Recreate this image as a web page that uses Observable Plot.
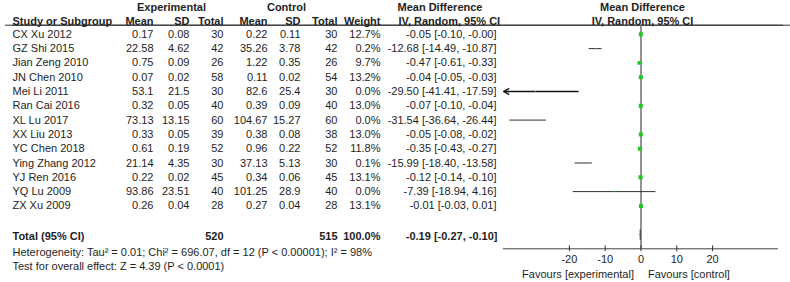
<!DOCTYPE html>
<html>
<head>
<meta charset="utf-8">
<script src="https://cdn.jsdelivr.net/npm/d3@7"></script>
<script src="https://cdn.jsdelivr.net/npm/@observablehq/plot@0.6"></script>
<style>
  html, body { margin: 0; padding: 0; background: #fff; }
  #chart { width: 790px; height: 282px; }
</style>
</head>
<body>
<div id="chart"></div>
<script>
// ---- data ----
const studies   = ["CX Xu 2012","GZ Shi 2015","Jian Zeng 2010","JN Chen 2010","Mei Li 2011","Ran Cai 2016","XL Lu 2017","XX Liu 2013","YC Chen 2018","Ying Zhang 2012","YJ Ren 2016","YQ Lu 2009","ZX Xu 2009"];
const expMean   = [0.17, 22.58, 0.75, 0.07, 53.1, 0.32, 73.13, 0.33, 0.61, 21.14, 0.22, 93.86, 0.26];
const expSD     = [0.08, 4.62, 0.09, 0.02, 21.5, 0.05, 13.15, 0.05, 0.19, 4.35, 0.02, 23.51, 0.04];
const expTotal  = [30, 42, 26, 58, 30, 40, 60, 39, 52, 30, 45, 40, 28];
const ctlMean   = [0.22, 35.26, 1.22, 0.11, 82.6, 0.39, 104.67, 0.38, 0.96, 37.13, 0.34, 101.25, 0.27];
const ctlSD     = [0.11, 3.78, 0.35, 0.02, 25.4, 0.09, 15.27, 0.08, 0.22, 5.13, 0.06, 28.9, 0.04];
const ctlTotal  = [30, 42, 26, 54, 30, 40, 60, 38, 52, 30, 45, 40, 28];
const weight    = [12.7, 0.2, 9.7, 13.2, 0.0, 13.0, 0.0, 13.0, 11.8, 0.1, 13.1, 0.0, 13.1];
const md        = [-0.05, -12.68, -0.47, -0.04, -29.50, -0.07, -31.54, -0.05, -0.35, -15.99, -0.12, -7.39, -0.01];
const ciLow     = [-0.10, -14.49, -0.61, -0.05, -41.41, -0.10, -36.64, -0.08, -0.43, -18.40, -0.14, -18.94, -0.03];
const ciHigh    = [-0.00, -10.87, -0.33, -0.03, -17.59, -0.04, -26.44, -0.02, -0.27, -13.58, -0.10, 4.16, 0.01];

const totalExp = 520, totalCtl = 515, totalWeight = 100.0;
const totalMD = -0.19, totalLow = -0.27, totalHigh = -0.10;
const tau2 = "0.01", chi2 = "696.07", dfHet = 12, pHet = "< 0.00001", i2 = 98;
const zOverall = "4.39", pOverall = "< 0.0001";

const tickValues = [-20, -10, 0, 10, 20];
const xDomain = [-38.4, 38.4];

// ---- layout ----
const W = 790, H = 282, ML = 12, MR = 0;
const yDomain = [0, 16], yRange = [33.8, 262.6];
const yPix = d3.scaleLinear(yDomain, yRange);
const axisRow = 15;
const totalRow = studies.length + 1;
const font = "'Liberation Sans', Arial, sans-serif";
const ink = "#1e1e1e";

const fmt2 = v => ((v < 0 || Object.is(v, -0)) ? "-" : "") + Math.abs(v).toFixed(2);
const ciText = (m, l, h) => `${fmt2(m)} [${fmt2(l)}, ${fmt2(h)}]`;

const rows = studies.map((s, i) => ({
  i, s,
  em: String(expMean[i]), es: String(expSD[i]), et: String(expTotal[i]),
  cm: String(ctlMean[i]), cs: String(ctlSD[i]), ct: String(ctlTotal[i]),
  w: weight[i], wt: weight[i].toFixed(1) + "%",
  md: md[i], lo: ciLow[i], hi: ciHigh[i],
  ci: ciText(md[i], ciLow[i], ciHigh[i])
}));

const inside = rows.filter(d => d.lo >= xDomain[0] && d.hi <= xDomain[1]);
const clipped = rows.filter(d => d.lo < xDomain[0] || d.hi > xDomain[1]);

// table columns: [field, right edge px]
const cols = [["em",153],["es",189],["et",223],["cm",267],["cs",300],["ct",337],["wt",380],["ci",496]];

const totalCells = [
  {t: "Total (95% CI)", x: 12, a: "start"},
  {t: String(totalExp), x: 223, a: "end"},
  {t: String(totalCtl), x: 337, a: "end"},
  {t: totalWeight.toFixed(1) + "%", x: 380, a: "end"},
  {t: ciText(totalMD, totalLow, totalHigh), x: 497, a: "end"}
];
const headers2 = [
  {t: "Study or Subgroup", x: 12, a: "start"},
  {t: "Mean", x: 153, a: "end"}, {t: "SD", x: 189, a: "end"}, {t: "Total", x: 223, a: "end"},
  {t: "Mean", x: 267, a: "end"}, {t: "SD", x: 300, a: "end"}, {t: "Total", x: 337, a: "end"},
  {t: "Weight", x: 380, a: "end"},
  {t: "IV, Random, 95% CI", x: 398, a: "start"},
  {t: "IV, Random, 95% CI", x: 642, a: "middle"}
];
const headers1 = [
  {t: "Experimental", x: 171, a: "middle"},
  {t: "Control", x: 286, a: "middle"},
  {t: "Mean Difference", x: 397, a: "start"},
  {t: "Mean Difference", x: 642, a: "middle"}
];

const hetText = `Heterogeneity: Tau\u00B2 = ${tau2}; Chi\u00B2 = ${chi2}, df = ${dfHet} (P ${pHet}); I\u00B2 = ${i2}%`;
const testText = `Test for overall effect: Z = ${zOverall} (P ${pOverall})`;

const diamond = [
  {x: totalLow, y: totalRow}, {x: totalMD, y: totalRow - 0.36},
  {x: totalHigh, y: totalRow}, {x: totalMD, y: totalRow + 0.36},
  {x: totalLow, y: totalRow}
];

// anchor a text at a pixel column: start → from left frame edge, end → from right edge, middle → from centre
const anchorOpts = (px, a) =>
  a === "start" ? {frameAnchor: "left", dx: px - ML, textAnchor: "start"}
  : a === "end" ? {frameAnchor: "right", dx: px - (W - MR), textAnchor: "end"}
  : {frameAnchor: "middle", dx: px - (ML + W - MR) / 2, textAnchor: "middle"};

const cell = (c, row, dy, bold) => Plot.text([c.t], {
  ...anchorOpts(c.x, c.a), y: () => row, dy,
  fontSize: 11, fill: ink, fontWeight: bold ? "bold" : "normal"
});

const marginBottom = H - yPix(axisRow);

const plot = Plot.plot({
  width: W, height: H,
  marginLeft: ML, marginRight: MR, marginTop: 25, marginBottom,
  style: {fontFamily: font, fontSize: "11px", color: ink, background: "#fff"},
  x: {domain: xDomain, range: [503, 778], axis: null},
  y: {domain: yDomain, range: yRange, axis: null},
  r: {type: "sqrt", domain: [0, 13.2], range: [0.55, 2.3]},
  marks: [
    // header rule
    Plot.ruleY([-1], {dy: 5.2, dx: -7, stroke: "#333", strokeWidth: 1}),
    Plot.ruleY([-1], {dy: 5.2, stroke: "#333", strokeWidth: 1}),
    // zero line
    Plot.ruleX([0], {stroke: "#666", strokeWidth: 1.4}),
    // axis line
    Plot.ruleY([axisRow], {x1: xDomain[0], x2: xDomain[1], stroke: "#444", strokeWidth: 1}),
    Plot.axisX({anchor: "bottom", ticks: tickValues, tickSize: 6, tickPadding: 3, dy: -3, fontSize: 11, stroke: "#333", fill: ink, label: null, tickFormat: d => String(d)}),
    Plot.text(["Favours [experimental]"], {x: 0, y: axisRow, dy: 26, dx: -7, textAnchor: "end", fontSize: 11, fill: ink}),
    Plot.text(["Favours [control]"], {x: 0, y: axisRow, dy: 26, dx: 7, textAnchor: "start", fontSize: 11, fill: ink}),
    // CI lines
    Plot.ruleY(inside, {y: "i", x1: "lo", x2: "hi", stroke: "#333", strokeWidth: 1}),
    Plot.arrow(clipped, {y1: "i", y2: "i", x1: d => Math.min(d.hi, xDomain[1]), x2: d => Math.max(d.lo, xDomain[0]), stroke: "#111", strokeWidth: 1.3, headLength: 7, headAngle: 55}),
    // squares
    Plot.dot(rows, {x: "md", y: "i", r: "w", symbol: "square", fill: "#1ec81e", stroke: "none"}),
    // diamond
    Plot.line(diamond, {x: "x", y: "y", stroke: "#555", fill: "#888", strokeWidth: 1}),
    // headers
    ...headers1.map(c => cell(c, -2, 1.5, true)),
    ...headers2.map(c => cell(c, -1, 1, true)),
    // study names and columns
    Plot.text(rows, {...anchorOpts(12, "start"), y: "i", text: "s", fontSize: 11, fill: ink}),
    ...cols.map(([f, px]) => Plot.text(rows, {...anchorOpts(px, "end"), y: "i", text: f, fontSize: 11, fill: ink})),
    // total row
    ...totalCells.map(c => cell(c, totalRow, 2, true)),
    // heterogeneity
    cell({t: hetText, x: 12, a: "start"}, totalRow + 1, 3.5, false),
    cell({t: testText, x: 12, a: "start"}, totalRow + 2, 3.5, false)
  ]
});
document.getElementById("chart").appendChild(plot);
</script>
</body>
</html>
